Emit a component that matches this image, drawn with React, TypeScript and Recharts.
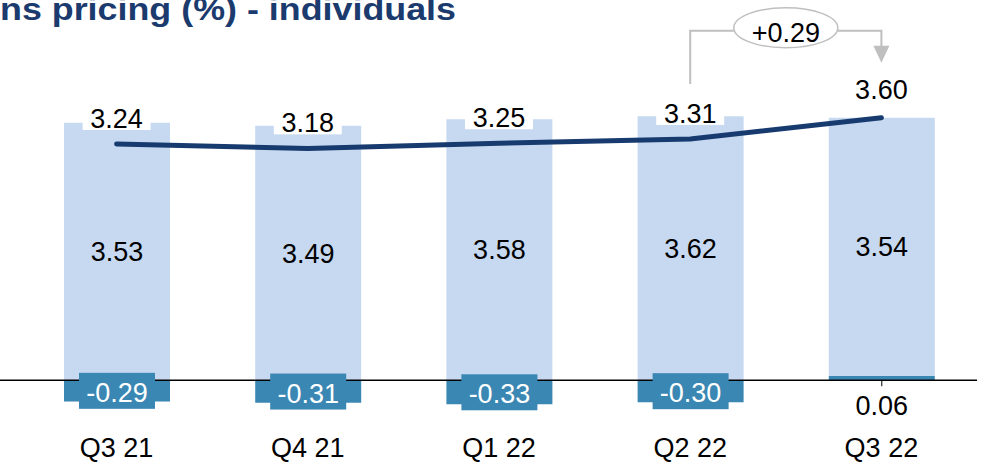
import { ComposedChart, Bar, Line, XAxis, YAxis, LabelList, ReferenceLine } from 'recharts';

// Loans pricing - individuals, quarterly (%)
const quarters = ['Q3 21', 'Q4 21', 'Q1 22', 'Q2 22', 'Q3 22'];
const baseRates = [3.53, 3.49, 3.58, 3.62, 3.54];
const adjustments = [-0.29, -0.31, -0.33, -0.3, 0.06];
const pricing = [3.24, 3.18, 3.25, 3.31, 3.6];
const deltaLabel = '+0.29';

const data = quarters.map((quarter, i) => ({
  quarter,
  base: baseRates[i],
  adj: adjustments[i],
  pricing: pricing[i],
}));

const LIGHT = '#c6d9f1';
const DARK = '#3a87b4';
const NAVY = '#173b6f';
const GREY = '#bfbfbf';
const FONT = 27;

const W = 993;
const H = 462;
// plot area runs to the top so the bracket above the line is not clipped
const MARGIN = { top: 0, right: 16, left: 21, bottom: 0 };
const BAND = (W - MARGIN.left - MARGIN.right) / quarters.length;

// Adjustment bar label: boxed white text for negatives, plain text under the axis otherwise
const AdjLabel = (props: any) => {
  const vb = props.viewBox || props;
  const x = (props.x ?? vb.x) as number;
  const y = (props.y ?? vb.y) as number;
  const width = (props.width ?? vb.width) as number;
  const height = (props.height ?? vb.height) as number;
  const value = Number(props.value);
  const cx = x + width / 2;
  if (value < 0) {
    const cy = y + height / 2;
    return (
      <g>
        <rect x={cx - 38} y={cy - 18} width={76} height={36} fill={DARK} />
        <text x={cx} y={cy + 11} textAnchor="middle" fill="#fff" fontSize={FONT}>
          {value.toFixed(2)}
        </text>
      </g>
    );
  }
  const zero = Math.max(y, y + height);
  return (
    <g>
      <line x1={cx} y1={zero} x2={cx} y2={zero + 6} stroke="#000" strokeWidth={1} />
      <text x={cx} y={zero + 35} textAnchor="middle" fill="#000" fontSize={FONT}>
        {value.toFixed(2)}
      </text>
    </g>
  );
};

// Line value label with white box
const PricingLabel = (props: any) => {
  const vb = props.viewBox || props;
  const x = (props.x ?? vb.x) as number;
  const y = (props.y ?? vb.y) as number;
  const last = props.index === quarters.length - 1;
  const base = last ? y - 19 : y - 16;
  return (
    <g>
      <rect x={x - 34} y={base - 24} width={68} height={26} fill="#fff" />
      <text x={x} y={base} textAnchor="middle" fill="#000" fontSize={FONT}>
        {Number(props.value).toFixed(2)}
      </text>
    </g>
  );
};

// Bracket with "+0.29" between the last two points
const PricingDot = (props: any) => {
  const { cx, cy, index, points } = props;
  if (index !== quarters.length - 1) return <g key={`dot-${index}`} />;
  const prev = points && points[index - 1];
  const x3 = prev ? prev.x : cx - BAND;
  const y3 = prev ? prev.y : cy + 21;
  const x4 = cx;
  const y4 = cy;
  const topY = Math.min(y3, y4) - 87;
  const mid = (x3 + x4) / 2;
  const rx = 52;
  return (
    <g key={`dot-${index}`}>
      <polyline
        points={`${x3},${y3 - 55} ${x3},${topY} ${mid - rx},${topY}`}
        fill="none"
        stroke={GREY}
        strokeWidth={2}
      />
      <polyline
        points={`${mid + rx},${topY} ${x4},${topY} ${x4},${y4 - 70}`}
        fill="none"
        stroke={GREY}
        strokeWidth={2}
      />
      <polygon points={`${x4 - 8},${y4 - 72} ${x4 + 8},${y4 - 72} ${x4},${y4 - 55}`} fill={GREY} />
      <ellipse cx={mid} cy={topY - 3} rx={rx} ry={20} fill="#fff" stroke={GREY} strokeWidth={1.5} />
      <text x={mid} y={topY + 11} textAnchor="middle" fill="#000" fontSize={FONT}>
        {deltaLabel}
      </text>
    </g>
  );
};

const ZeroLine = (props: any) => (
  <line x1={0} y1={props.y1} x2={props.x2} y2={props.y2} stroke="#000" strokeWidth={1.5} />
);

export default function App() {
  return (
    <div
      style={{
        position: 'absolute',
        left: 0,
        top: 0,
        width: W,
        height: H,
        overflow: 'hidden',
        background: '#fff',
        fontFamily: '"Liberation Sans", Arial, sans-serif',
      }}
    >
      <div
        style={{
          position: 'absolute',
          left: 0,
          top: -7,
          fontSize: 32,
          lineHeight: '32px',
          fontWeight: 'bold',
          color: '#1b3a6d',
          whiteSpace: 'nowrap',
          transform: 'scaleX(1.12)',
          transformOrigin: 'left top',
        }}
      >
        ns pricing (%) - individuals
      </div>
      <ComposedChart width={W} height={H} data={data} margin={MARGIN} stackOffset="sign">
        <XAxis
          dataKey="quarter"
          axisLine={false}
          tickLine={false}
          tickSize={0}
          tickMargin={14}
          height={38}
          interval={0}
          tick={{ fill: '#000', fontSize: FONT }}
        />
        <YAxis type="number" hide domain={[-0.6, 5.215]} allowDataOverflow />
        <Bar dataKey="adj" stackId="a" fill={DARK} barSize={106} isAnimationActive={false}>
          <LabelList dataKey="adj" content={AdjLabel} />
        </Bar>
        <Bar dataKey="base" stackId="a" fill={LIGHT} barSize={106} isAnimationActive={false}>
          <LabelList dataKey="base" position="center" fill="#000" fontSize={FONT} formatter={(v: any) => Number(v).toFixed(2)} />
        </Bar>
        <ReferenceLine y={0} shape={ZeroLine} />
        <Line
          type="linear"
          dataKey="pricing"
          stroke={NAVY}
          strokeWidth={5}
          strokeLinecap="round"
          dot={PricingDot}
          activeDot={false}
          isAnimationActive={false}
        >
          <LabelList dataKey="pricing" content={PricingLabel} />
        </Line>
      </ComposedChart>
    </div>
  );
}
